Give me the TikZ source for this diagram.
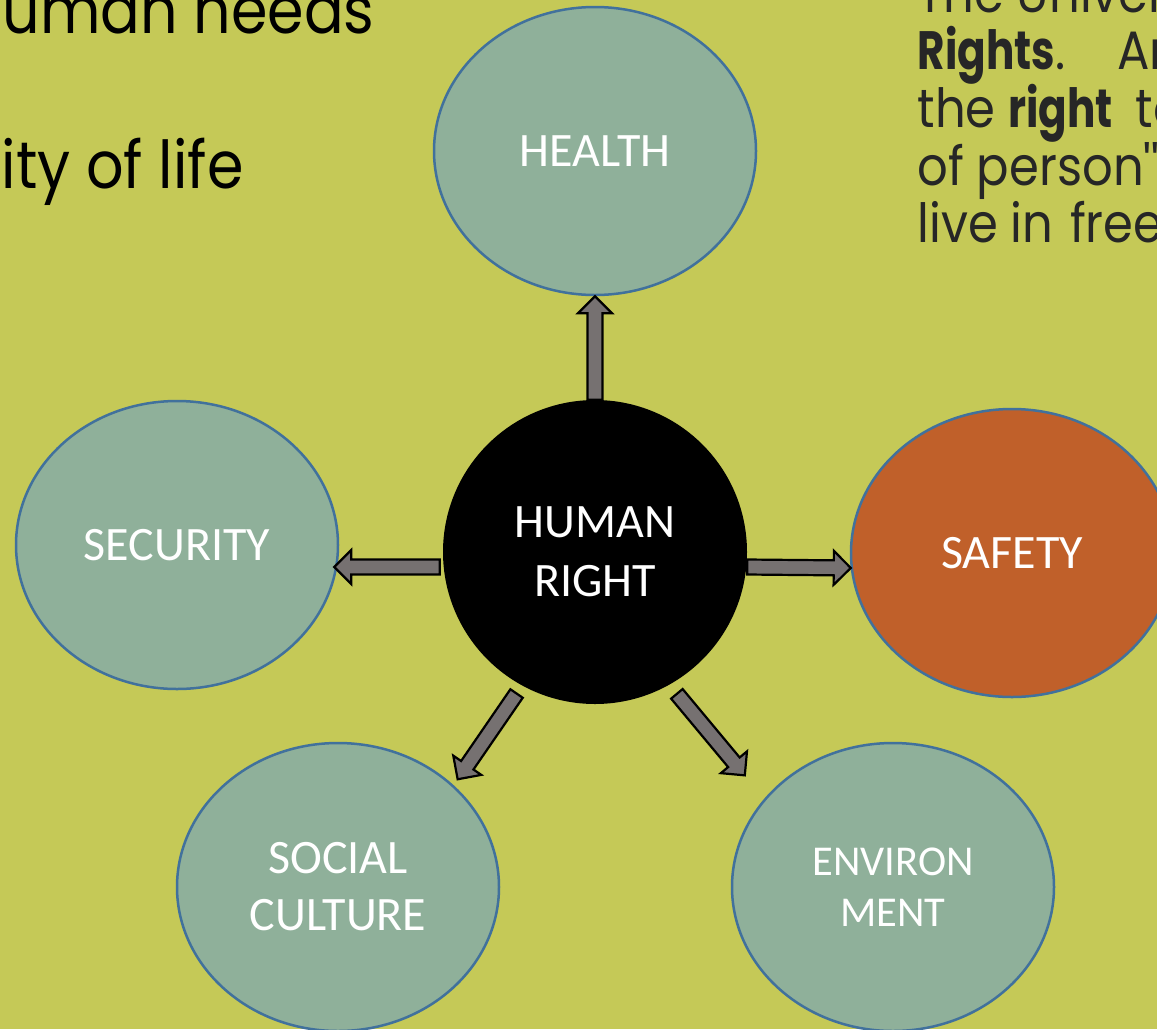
\documentclass[tikz,border=0pt]{standalone}
\usepackage{fontspec}
\setmainfont{Carlito}
\newfontfamily\gothic{Poppins}[FakeStretch=0.89,BoldFeatures={FakeStretch=0.78}]
\usepackage{xcolor}
\usepackage{tikz}
\usetikzlibrary{calc}
\usetikzlibrary{shapes.geometric}

\definecolor{bgolive}{HTML}{C5C957}
\definecolor{sage}{HTML}{8FB09A}
\definecolor{rust}{HTML}{C0602A}
\definecolor{edgeblue}{HTML}{41719C}
\definecolor{arrgray}{HTML}{767171}
\definecolor{inkgray}{HTML}{262626}

% fat arrow from #1 to #2
\newcommand\blockarrow[2]{%
	\coordinate (ba) at ($(#2)!17pt!(#1)$);
	\draw[blockarr] ($(#1)!7.5pt!90:(#2)$) -- ($(ba)!7.5pt!90:(#2)$) -- ($(ba)!17pt!90:(#2)$) -- (#2)
		-- ($(ba)!17pt!-90:(#2)$) -- ($(ba)!7.5pt!-90:(#2)$) -- ($(#1)!7.5pt!-90:(#2)$) -- cycle;
}

\begin{document}
\begin{tikzpicture}[x=1pt,y=-1pt,
		bubble/.style={ellipse,draw=edgeblue,line width=2.5pt,fill=sage,text=white,minimum width=322pt,minimum height=288pt,inner sep=0pt,align=center,font=\fontsize{48}{57}\selectfont},
		blockarr/.style={draw=black,line width=2.2pt,fill=arrgray,line join=miter}]
		\useasboundingbox (0,0) rectangle (1157,1029);
		\clip (0,0) rectangle (1157,1029);
		\fill [bgolive] (0,0) rectangle (1157,1029);

		\node [anchor=base east,font=\gothic\fontsize{66}{74}\selectfont] (needs) at (378,33) {Human needs};
		\node [anchor=base east,font=\gothic\fontsize{66}{74}\selectfont] (quality) at (247,188) {Quality of life};
		\foreach \ln [count=\i from 0] in {{The Universal},{\textbf{Rights}.\hspace{52pt}Article},{the \textbf{right}\hspace{10pt} to},{of person''},{live in\hspace{4pt} freedom}}
			\node [anchor=base west,text=inkgray,font=\gothic\fontsize{54}{58}\selectfont] (decl\i) at (914,12+57.7*\i) {\ln};

		\node [bubble] (health) at (595,151) {HEALTH};
		\node [bubble] (security) at (177,545) {SECURITY};
		\node [bubble,fill=rust] (safety) at (1012,553) {SAFETY};
		\node [bubble] (social) at (338,887) {SOCIAL\\CULTURE};
		\node [bubble,font=\fontsize{42.5}{51}\selectfont] (environ) at (893,887) {ENVIRON\\MENT};
		\node [circle,fill=black,text=white,minimum size=304pt,inner sep=0pt,align=center,font=\fontsize{48}{59}\selectfont] (human) at (595,552) {HUMAN\\RIGHT};

		\coordinate (l-a) at ($(human.west)+(-3,15)$);
		\coordinate (l-b) at ($(security.east)+(-5,22)$);
		\coordinate (r-a) at ($(human.east)+(0,15)$);
		\coordinate (r-b) at ($(safety.west)+(1,15)$);
		\coordinate (dl-a) at ($(human)!1.063!(human.241)$);
		\coordinate (dl-b) at ($(social)!1.046!(social.42)$);
		\coordinate (dr-a) at ($(human)!1.076!(human.-60)$);
		\coordinate (dr-b) at ($(environ)!1.194!(environ.143)$);

		\blockarrow{human.north}{health.south}
		\blockarrow{l-a}{l-b}
		\blockarrow{r-a}{r-b}
		\blockarrow{dl-a}{dl-b}
		\blockarrow{dr-a}{dr-b}
	\end{tikzpicture}
\end{document}
